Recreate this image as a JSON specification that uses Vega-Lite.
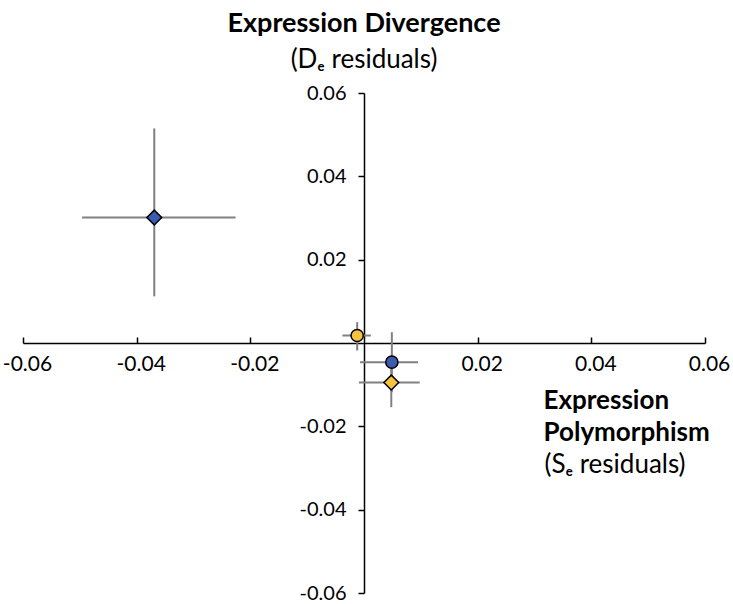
{
  "$schema": "https://vega.github.io/schema/vega-lite/v6.json",
  "width": 682,
  "height": 500,
  "autosize": "none",
  "padding": {"left": 23, "top": 93, "right": 28, "bottom": 11},
  "background": "white",
  "title": {
    "text": "Expression Divergence",
    "subtitle": "(Dₑ residuals)",
    "anchor": "middle",
    "font": "Lato",
    "fontSize": 27,
    "fontWeight": "bold",
    "color": "black",
    "subtitleFont": "Lato",
    "subtitleFontSize": 26,
    "subtitleColor": "black",
    "subtitlePadding": 9,
    "offset": 9
  },
  "config": {
    "view": {"stroke": null},
    "axis": {"grid": false, "domainColor": "black", "tickColor": "black", "domainWidth": 1.5, "tickWidth": 1.5, "labelColor": "black", "labelFont": "Lato", "labelFontSize": 20, "titleColor": "black", "titleFont": "Lato"}
  },
  "data": {
    "values": [
      {"group": "blue", "marker": "diamond", "x": -0.0369, "y": 0.0301, "xlo": -0.0496, "xhi": -0.0226, "ylo": 0.0112, "yhi": 0.0515},
      {"group": "yellow", "marker": "circle", "x": -0.0012, "y": 0.0018, "xlo": -0.0038, "xhi": 0.0012, "ylo": -0.0018, "yhi": 0.005},
      {"group": "blue", "marker": "circle", "x": 0.0049, "y": -0.0046, "xlo": -0.0007, "xhi": 0.0095, "ylo": -0.0118, "yhi": 0.0026},
      {"group": "yellow", "marker": "diamond", "x": 0.0048, "y": -0.0095, "xlo": -0.0009, "xhi": 0.0098, "ylo": -0.0154, "yhi": -0.0037}
    ]
  },
  "encoding": {
    "x": {
      "field": "x", "type": "quantitative",
      "scale": {"domain": [-0.06, 0.06], "nice": false, "zero": false},
      "axis": {
        "values": [-0.06, -0.04, -0.02, 0.02, 0.04, 0.06],
        "labelExpr": "datum.value < 0 ? '-' + format(-datum.value, '.2f') : format(datum.value, '.2f')",
        "offset": -250,
        "tickSize": -6,
        "labelPadding": 16,
        "labelOffset": 4,
        "labelFontSize": 21,
        "labelFlush": false,
        "title": ["Expression", "Polymorphism"],
        "titleFontSize": 26,
        "titleFontWeight": "bold",
        "titleAlign": "left",
        "titleBaseline": "alphabetic",
        "titleX": 520,
        "titleY": 65,
        "titleLineHeight": 32
      }
    },
    "y": {
      "field": "y", "type": "quantitative",
      "scale": {"domain": [-0.06, 0.06], "nice": false, "zero": false},
      "axis": {
        "values": [-0.06, -0.04, -0.02, 0.02, 0.04, 0.06],
        "labelExpr": "datum.value < 0 ? '-' + format(-datum.value, '.2f') : format(datum.value, '.2f')",
        "offset": -341,
        "tickSize": 6,
        "labelPadding": 12,
        "labelFlush": false,
        "title": "(Sₑ residuals)",
        "titleFontSize": 26,
        "titleFontWeight": "normal",
        "titleAngle": 0,
        "titleAlign": "left",
        "titleBaseline": "alphabetic",
        "titleX": 180,
        "titleY": 379
      }
    }
  },
  "layer": [
    {
      "mark": {"type": "rule", "color": "#808080", "strokeWidth": 2},
      "encoding": {"x": {"field": "xlo", "type": "quantitative"}, "x2": {"field": "xhi"}, "y": {"field": "y", "type": "quantitative"}}
    },
    {
      "mark": {"type": "rule", "color": "#808080", "strokeWidth": 2},
      "encoding": {"y": {"field": "ylo", "type": "quantitative"}, "y2": {"field": "yhi"}, "x": {"field": "x", "type": "quantitative"}}
    },
    {
      "mark": {"type": "point", "filled": true, "stroke": "black", "strokeWidth": 1.5, "opacity": 1},
      "encoding": {
        "shape": {"field": "marker", "type": "nominal", "scale": {"domain": ["circle", "diamond"], "range": ["circle", "diamond"]}, "legend": null},
        "size": {"field": "marker", "type": "nominal", "scale": {"domain": ["circle", "diamond"], "range": [150, 220]}, "legend": null},
        "fill": {"field": "group", "type": "nominal", "scale": {"domain": ["blue", "yellow"], "range": ["#3A5BB0", "#F5C242"]}, "legend": null}
      }
    }
  ]
}
